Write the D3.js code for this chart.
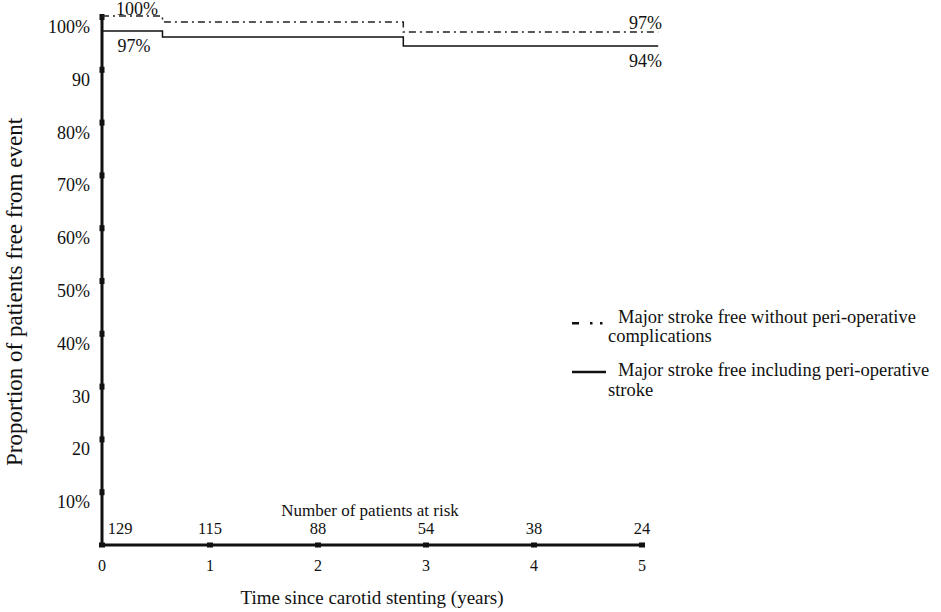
<!DOCTYPE html>
<html>
<head>
<meta charset="utf-8">
<script src="https://cdn.jsdelivr.net/npm/d3@7"></script>
<style>
body { margin: 0; background: #fff; }
text { font-family: "Liberation Serif", "Times New Roman", serif; fill: #111; }
</style>
</head>
<body>
<script>
// step points (years, % free)
var dashTimes  = [0, 0.56, 2.79, 5.15];
var dashValues = [100.2, 99.05, 97.15, 97.15];
var solidTimes  = [0, 0.56, 2.79, 5.15];
var solidValues = [97.35, 96.2, 94.5, 94.5];

var yTicks  = [10, 20, 30, 40, 50, 60, 70, 80, 90, 100];
var yLabels = ["10%", "20", "30", "40%", "50%", "60%", "70%", "80%", "90", "100%"];
var xTicks  = [0, 1, 2, 3, 4, 5];
var atRisk  = [129, 115, 88, 54, 38, 24];

var W = 941, H = 612;
var svg = d3.select("body").append("svg").attr("width", W).attr("height", H)
  .attr("font-family", "Liberation Serif, serif");

var x = d3.scaleLinear().domain([0, 5]).range([102, 642]);
var y = d3.scaleLinear().domain([0, 100]).range([545, 17]);

// axes (thick lines with square tick markers)
svg.append("line").attr("x1", x(0)).attr("x2", x(0)).attr("y1", y(0)).attr("y2", y(100) - 2)
  .attr("stroke", "#111").attr("stroke-width", 3);
svg.append("line").attr("x1", x(0)).attr("x2", x(5)).attr("y1", y(0)).attr("y2", y(0))
  .attr("stroke", "#111").attr("stroke-width", 3);

svg.selectAll(".ym").data(yTicks).enter().append("rect")
  .attr("x", x(0) - 2.5).attr("y", function(d){ return y(d) - 3; })
  .attr("width", 5).attr("height", 6).attr("fill", "#111");
svg.selectAll(".xm").data(xTicks).enter().append("rect")
  .attr("x", function(d){ return x(d) - 3; }).attr("y", y(0) - 2.5)
  .attr("width", 6).attr("height", 5).attr("fill", "#111");

svg.selectAll(".yl").data(yTicks).enter().append("text")
  .attr("x", 90).attr("y", function(d){ return y(d) + 16; })
  .attr("text-anchor", "end").attr("font-size", 18)
  .text(function(d, i){ return yLabels[i]; });

svg.selectAll(".xl").data(xTicks).enter().append("text")
  .attr("x", function(d){ return x(d); }).attr("y", 571)
  .attr("text-anchor", "middle").attr("font-size", 16)
  .text(function(d){ return d; });

// patients at risk
svg.selectAll(".risk").data(atRisk).enter().append("text")
  .attr("x", function(d, i){ return i == 0 ? x(0) + 18 : x(xTicks[i]); }).attr("y", 534)
  .attr("text-anchor", "middle").attr("font-size", 16.5)
  .text(function(d){ return d; });
svg.append("text").attr("x", 370).attr("y", 516).attr("text-anchor", "middle")
  .attr("font-size", 17).text("Number of patients at risk");

// titles
svg.append("text").attr("x", 372).attr("y", 604).attr("text-anchor", "middle")
  .attr("font-size", 19).text("Time since carotid stenting (years)");
svg.append("text").attr("transform", "translate(22,292) rotate(-90)")
  .attr("text-anchor", "middle").attr("font-size", 23)
  .text("Proportion of patients free from event");

// curves
var line = d3.line().curve(d3.curveStepAfter);
var dashPts = dashTimes.map(function(t, i){ return [x(t), y(dashValues[i])]; });
var solidPts = solidTimes.map(function(t, i){ return [x(t), y(solidValues[i])]; });

svg.append("path").attr("d", line(dashPts)).attr("fill", "none")
  .attr("stroke", "#222").attr("stroke-width", 1.5).attr("stroke-dasharray", "7,4,2,4");
svg.append("path").attr("d", line(solidPts)).attr("fill", "none")
  .attr("stroke", "#111").attr("stroke-width", 1.5);

// end labels
svg.append("text").attr("x", 137).attr("y", 15).attr("text-anchor", "middle").attr("font-size", 18).text("100%");
svg.append("text").attr("x", 134).attr("y", 52).attr("text-anchor", "middle").attr("font-size", 18).text("97%");
svg.append("text").attr("x", 662).attr("y", 29).attr("text-anchor", "end").attr("font-size", 18).text("97%");
svg.append("text").attr("x", 662).attr("y", 67).attr("text-anchor", "end").attr("font-size", 18).text("94%");

// legend
var lg = svg.append("g");
lg.append("rect").attr("x", 572).attr("y", 322).attr("width", 7).attr("height", 2.5).attr("fill", "#111");
lg.append("rect").attr("x", 590).attr("y", 322).attr("width", 2.5).attr("height", 2.5).attr("fill", "#111");
lg.append("rect").attr("x", 600).attr("y", 322).attr("width", 2.5).attr("height", 2.5).attr("fill", "#111");
lg.append("text").attr("x", 618).attr("y", 323).attr("font-size", 18.5).text("Major stroke free without peri-operative");
lg.append("text").attr("x", 608).attr("y", 342).attr("font-size", 18.5).text("complications");
lg.append("line").attr("x1", 572).attr("x2", 606).attr("y1", 372).attr("y2", 372).attr("stroke", "#111").attr("stroke-width", 2.5);
lg.append("text").attr("x", 618).attr("y", 376).attr("font-size", 18.5).text("Major stroke free including peri-operative");
lg.append("text").attr("x", 608).attr("y", 396).attr("font-size", 18.5).text("stroke");
</script>
</body>
</html>
